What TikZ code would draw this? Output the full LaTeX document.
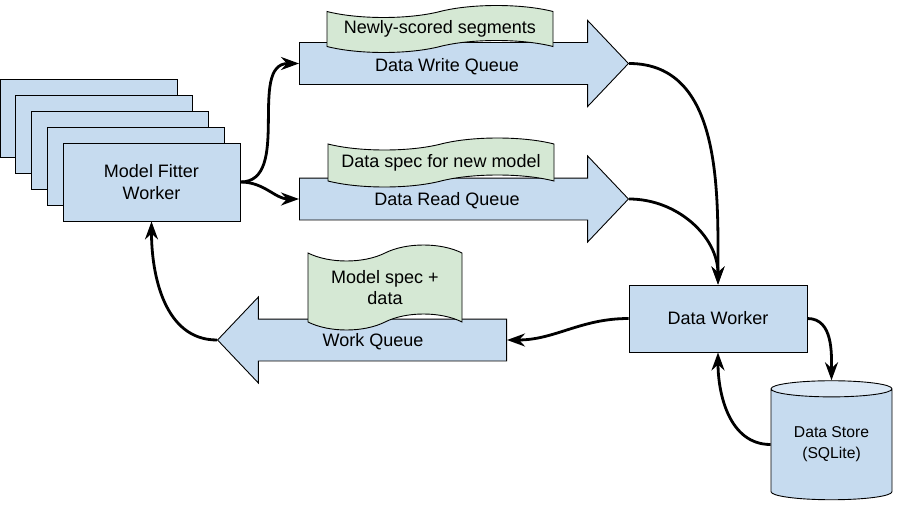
\documentclass[tikz,border=0pt]{standalone}
\usepackage{fontspec}
\setmainfont{Liberation Sans}
\usetikzlibrary{arrows.meta,positioning,shapes.arrows,shapes.symbols,shapes.geometric}
\definecolor{boxblue}{RGB}{198,219,239}
\definecolor{capblue}{RGB}{219,232,245}
\definecolor{notegreen}{RGB}{213,232,212}

\begin{document}
\begin{tikzpicture}[
    x=1pt, y=-1pt,
    every node/.style={draw, line width=0.9pt, align=center, inner sep=0pt, font=\fontsize{18}{21.6}\selectfont},
    worker/.style={fill=boxblue, minimum width=177pt, minimum height=78pt},
    queue/.style={single arrow, fill=boxblue, inner xsep=0pt, inner ysep=20.5pt, minimum width=0pt, single arrow head extend=22pt, single arrow tip angle=93, minimum height=329pt},
    qtext/.style={draw=none},
    note/.style={tape, fill=notegreen, tape bend top=in and out, tape bend bottom=in and out, tape bend height=12pt, minimum width=226pt},
    store/.style={cylinder, shape border rotate=90, aspect=0.215, cylinder uses custom fill, cylinder body fill=boxblue, cylinder end fill=capblue, minimum width=121pt, minimum height=119pt, font=\fontsize{15.7}{21}\selectfont},
    >={Stealth[length=18pt,width=13pt]}
  ]
    \useasboundingbox (0,0) rectangle (899,511);

    \node[worker] (fw1) at (88.5,118) {};
    \node[worker] (fw2) at (104.25,134) {};
    \node[worker] (fw3) at (120,150) {};
    \node[worker] (fw4) at (135.75,166) {};
    \node[worker] (fitter) at (151.5,182) {Model Fitter\\Worker};

    \node[queue, anchor=tail] (dwq) at (299,63.5) {};
    \node[qtext] (dwqtext) at (447,67) {Data Write Queue};
    \node[note, minimum height=47pt] (wnote) at (440,29) {Newly-scored segments};

    \node[queue, anchor=tail] (drq) at (299,199) {};
    \node[qtext] (drqtext) at (447,201) {Data Read Queue};
    \node[note, minimum height=49pt] (rnote) at (441,162.5) {Data spec for new model};

    \node[queue, anchor=tail, shape border rotate=180, minimum height=289pt] (wq) at (507,340) {};
    \node[qtext] (wqtext) at (373,342) {Work Queue};
    \node[note, minimum width=154pt, minimum height=85pt, tape bend height=16pt] (mnote) at (385,287.5) {Model spec +\\data};

    \node[fill=boxblue, minimum width=178pt, minimum height=67pt] (dworker) at (718,318.5) {Data Worker};
    \node[store] (dstore) at (831.5,444.5) {Data Store\\(SQLite)};

    \draw[->, line width=2.8pt] (fitter.east) to[out=0,in=180] (dwq.tail);
    \draw[->, line width=2.8pt] (fitter.east) to[out=0,in=180] (drq.tail);
    \draw[->, line width=2.8pt] (dwq.tip) to[out=0,in=90] (dworker.north);
    \draw[->, line width=2.8pt] (drq.tip) to[out=0,in=90] (dworker.north);
    \draw[->, line width=2.8pt] (dworker.west) to[out=180,in=0] (wq.tail);
    \draw[->, line width=2.8pt] (wq.tip) to[out=180,in=-90] (fitter.south);
    \draw[->, line width=2.8pt] (dworker.east) to[out=0,in=90] (dstore.north);
    \draw[->, line width=2.8pt] (dstore.west) to[out=180,in=-90] (dworker.south);
  \end{tikzpicture}
\end{document}
